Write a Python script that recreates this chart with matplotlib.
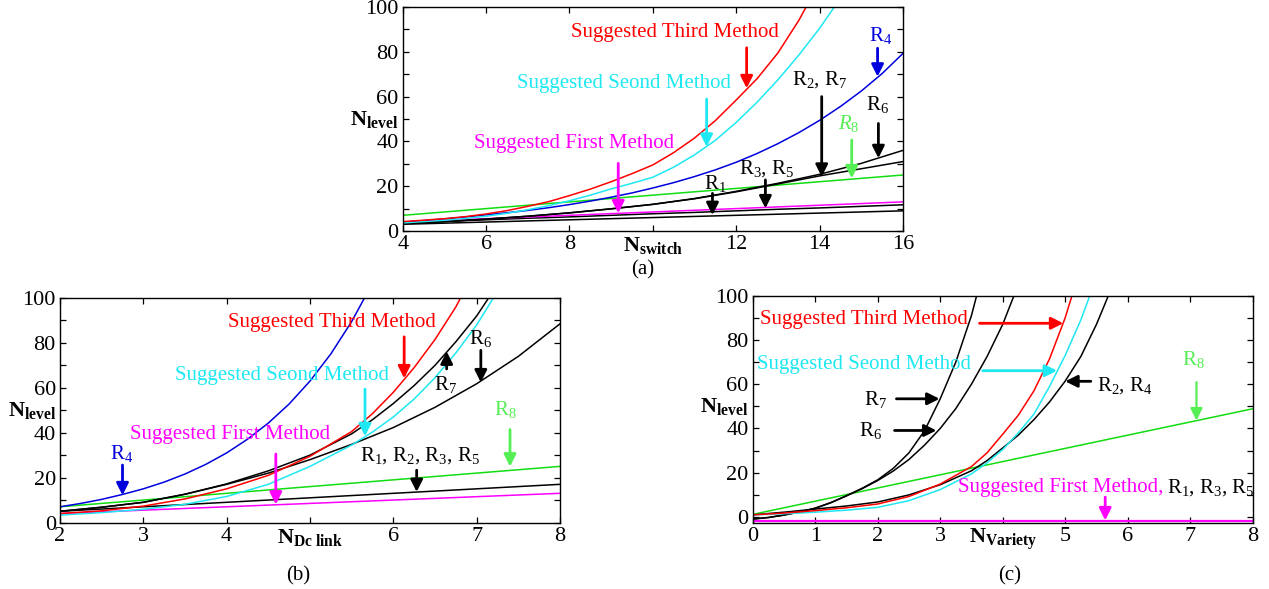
"""Three panels of N_level curves: (a) vs N_switch, (b) vs N_Dc link, (c) vs N_Variety."""

import matplotlib

matplotlib.use("Agg")
import matplotlib.pyplot as plt
from matplotlib import transforms

plt.rcParams["font.family"] = ["Liberation Serif", "DejaVu Serif"]
plt.rcParams["mathtext.fontset"] = "custom"
plt.rcParams["mathtext.rm"] = "Liberation Serif"
plt.rcParams["mathtext.it"] = "Liberation Serif:italic"
plt.rcParams["mathtext.bf"] = "Liberation Serif:bold"

RED = "#ff0000"
CYAN = "#1ee8f2"
BLUE = "#0000dd"
GREEN = "#11dd11"
LIGHT_GREEN = "#55ee55"
MAGENTA = "#ff00ff"
BLACK = "#000000"

# ---------------------------------------------------------------------------
# Panel (a): N_level vs N_switch
# ---------------------------------------------------------------------------
XA = [4, 5, 6, 7, 8, 9, 10, 11, 12, 13, 14, 15, 16]
A_FIRST = [4.0, 4.75, 5.5, 6.25, 7.0, 7.75, 8.5, 9.25, 10.0, 10.75, 11.5, 12.25, 13.0]
A_R8 = [7, 8.5, 10, 11.5, 13, 14.5, 16, 17.5, 19, 20.5, 22, 23.5, 25]
A_R1 = [3.0, 3.5, 4.0, 4.5, 5.0, 5.5, 6.0, 6.5, 7.0, 7.5, 8.0, 8.5, 9.0]
A_R3R5 = [3.7, 4.3, 5.0, 5.7, 6.3, 7.0, 7.7, 8.3, 9.0, 9.7, 10.3, 11.0, 11.7]
A_R2R7 = [3.3, 4.2, 5.3, 6.6, 8.1, 9.9, 11.9, 14.4, 17.5, 21.0, 24.6, 27.8, 31.0]
A_R6 = [3.3, 4.2, 5.3, 6.6, 8.1, 9.9, 11.9, 14.5, 17.7, 21.3, 25.3, 30.2, 36.0]

XA_FINE = [4, 4.5, 5, 5.5, 6, 6.5, 7, 7.5, 8, 8.5, 9, 9.5, 10, 10.5, 11, 11.5, 12,
           12.5, 13, 13.5, 14, 14.5, 15, 15.5, 16]
A_R4 = [4.0, 4.65, 5.4, 6.25, 7.2, 8.15, 9.2, 10.4, 11.8, 13.35, 15.1, 17.0, 19.2,
        21.6, 24.3, 27.3, 30.7, 34.6, 39.0, 43.9, 49.4, 55.6, 62.5, 70.3, 79.3]
A_THIRD = [4.2, 4.8, 5.5, 6.4, 7.6, 9.1, 11.0, 13.1, 15.8, 18.7, 22.0, 25.6, 29.5,
           35.0, 41.5, 49.3, 58.5, 68.0, 79.5, 94.0, 111.0]
A_SECOND = [3.6, 4.2, 4.8, 5.6, 6.6, 7.9, 9.5, 11.3, 13.5, 16.0, 18.8, 21.3, 24.0,
            28.5, 34.0, 40.5, 48.5, 57.5, 67.5, 78.5, 90.5, 104.0]

# ---------------------------------------------------------------------------
# Panel (b): N_level vs N_Dc link
# ---------------------------------------------------------------------------
XB = [2, 2.5, 3, 3.5, 4, 4.5, 5, 5.5, 6, 6.5, 7, 7.5, 8]
B_FIRST = [4.0, 4.75, 5.5, 6.25, 7.0, 7.75, 8.5, 9.25, 10.0, 10.75, 11.5, 12.25, 13.0]
B_R8 = [7, 8.5, 10, 11.5, 13, 14.5, 16, 17.5, 19, 20.5, 22, 23.5, 25]
B_R1235 = [5, 6, 7, 8, 9, 10, 11, 12, 13, 14, 15, 16, 17]
B_R6 = [5.0, 6.8, 9.0, 12.6, 17.0, 22.0, 28.0, 34.8, 42.3, 51.3, 61.8, 74.0, 88.5]

XB_FINE = [2, 2.5, 3, 3.5, 4, 4.5, 5, 5.5, 5.75, 6, 6.25, 6.5, 6.75, 7, 7.25]
B_THIRD = [4.0, 5.2, 7.3, 10.5, 15.0, 21.0, 29.5, 40.5, 48.5, 58.0, 69.0, 81.5, 96.0, 114.0]
B_SECOND = [3.3, 4.4, 5.9, 8.1, 11.6, 17.0, 25.0, 34.5, 40.3, 47.0, 55.0, 64.5, 75.5,
            88.0, 103.0]
B_R7 = [5.0, 6.8, 9.0, 12.6, 17.2, 23.0, 30.0, 39.5, 45.8, 53.0, 61.0, 70.0, 80.5,
        92.0, 106.0]

XB_R4 = [2, 2.25, 2.5, 2.75, 3, 3.25, 3.5, 3.75, 4, 4.25, 4.5, 4.75, 5, 5.25, 5.5, 5.75]
B_R4 = [7.0, 8.5, 10.3, 12.5, 15.0, 18.0, 21.6, 25.9, 31.0, 37.1, 44.3, 52.8, 63.0,
        75.1, 89.5, 106.6]

# ---------------------------------------------------------------------------
# Panel (c): N_level vs N_Variety
# ---------------------------------------------------------------------------
XC_LINE = [0, 8]
C_FIRST = [-1.9, -1.9]
C_R8 = [1.2, 48.9]

XC_Q = [0, 0.25, 0.5, 0.75, 1, 1.25, 1.5, 1.75, 2, 2.25, 2.5, 2.75, 3, 3.25, 3.5,
        3.75, 4, 4.25]
C_R7 = [-0.9, -0.2, 0.9, 2.3, 4.0, 6.5, 9.6, 13.0, 16.8, 22.0, 29.0, 39.0, 53.4,
        70.0, 91.0, 118.0]
C_R6 = [-0.9, -0.2, 0.9, 2.3, 4.0, 6.5, 9.6, 12.8, 16.5, 20.8, 26.0, 32.5, 40.0,
        49.0, 60.0, 72.5, 87.0, 105.0]

XC_LOW = [0, 0.5, 1, 1.5, 2, 2.5, 3, 3.5, 3.75, 4, 4.25, 4.5, 4.75, 5, 5.25, 5.5, 5.75]
C_THIRD = [1.0, 1.8, 2.9, 4.2, 5.9, 9.3, 14.9, 22.8, 29.0, 37.4, 46.0, 57.0, 71.5,
           90.0, 113.0]
C_SECOND = [1.0, 1.5, 2.2, 3.1, 4.4, 7.4, 12.4, 19.5, 24.5, 30.5, 38.0, 46.5, 59.0,
            73.0, 89.0, 108.0]
C_R2R4 = [1.0, 2.2, 3.6, 5.0, 6.8, 10.0, 14.6, 20.9, 25.5, 31.2, 37.0, 44.0, 52.0,
          61.4, 72.5, 87.0, 104.0]


# ---------------------------------------------------------------------------
# Helpers
# ---------------------------------------------------------------------------
W, H = 1269, 589
LABEL_SIZE = 15


def add_axes_px(fig, left, top, right, bottom):
    return fig.add_axes([left / W, 1 - bottom / H, (right - left) / W, (bottom - top) / H])


def curve(ax, xs, ys, color, lw=1.1):
    ax.plot(xs[:len(ys)], ys, color=color, lw=lw, solid_joinstyle="round")


def style_axes(ax, xlim, ylim, xticks, name_at, name):
    ax.set_xlim(*xlim)
    ax.set_ylim(*ylim)
    ax.set_xticks(xticks)
    ax.set_xticklabels(["" if t == name_at else f"{t:g}" for t in xticks])
    yticks = list(range(0, 101, 10))
    ax.set_yticks(yticks)
    ax.set_yticklabels([str(v) if v % 20 == 0 else "" for v in yticks])
    ax.tick_params(direction="in", top=True, right=True, length=4, width=0.9,
                   labelsize=16, pad=3)
    for spine in ax.spines.values():
        spine.set_linewidth(1.0)
    ax.annotate(name, xy=(name_at, 0), xycoords=("data", "axes fraction"),
                xytext=(0, -3), textcoords="offset points",
                ha="center", va="top", fontsize=16)
    trans = transforms.blended_transform_factory(ax.transAxes, ax.transData)
    ax.text(-0.008, 50, r"$\mathbf{N}_{\mathbf{level}}$", transform=trans,
            ha="right", va="center", fontsize=16)


def label(ax, text, x, y, color, ha="center"):
    ax.text(x, y, text, color=color, fontsize=LABEL_SIZE, ha=ha, va="center")


def arrow(ax, x0, y0, x1, y1, color, lw=2.0):
    ax.annotate("", xy=(x1, y1), xytext=(x0, y0),
                arrowprops=dict(arrowstyle="-|>", color=color, lw=lw,
                                mutation_scale=18, shrinkA=0, shrinkB=0))


fig = plt.figure(figsize=(W / 100, H / 100), dpi=100)

# ---------------------------------------------------------------------------
# (a)
# ---------------------------------------------------------------------------
ax = add_axes_px(fig, 402.7, 7, 903, 231)
curve(ax, XA, A_R8, GREEN)
curve(ax, XA, A_R1, BLACK)
curve(ax, XA, A_R3R5, BLACK)
curve(ax, XA, A_FIRST, MAGENTA)
curve(ax, XA, A_R2R7, BLACK)
curve(ax, XA, A_R6, BLACK)
curve(ax, XA_FINE, A_R4, BLUE)
curve(ax, XA_FINE, A_SECOND, CYAN)
curve(ax, XA_FINE, A_THIRD, RED)
style_axes(ax, (4, 16), (0, 100), [4, 6, 8, 10, 12, 14, 16], 10,
           r"$\mathbf{N}_{\mathbf{switch}}$")

label(ax, "Suggested Third Method", 10.53, 88.6, RED)
label(ax, "Suggested Seond Method", 9.32, 65.7, CYAN)
label(ax, "Suggested First Method", 8.11, 39.2, MAGENTA)
label(ax, r"R$_4$", 15.45, 87.5, BLUE)
label(ax, r"R$_2$, R$_7$", 14.01, 67.4, BLACK)
label(ax, r"R$_6$", 15.4, 56.3, BLACK)
label(ax, r"$R_8$", 14.7, 48.2, LIGHT_GREEN)
label(ax, r"R$_3$, R$_5$", 12.74, 28.1, BLACK)
label(ax, r"R$_1$", 11.49, 21.4, BLACK)

arrow(ax, 12.25, 81.8, 12.25, 63.7, RED)
arrow(ax, 11.29, 58.9, 11.29, 37.6, CYAN)
arrow(ax, 9.17, 30.2, 9.17, 7.9, MAGENTA)
arrow(ax, 15.39, 81.6, 15.39, 68.9, BLUE)
arrow(ax, 14.05, 60.0, 14.05, 24.2, BLACK)
arrow(ax, 15.41, 48.0, 15.41, 32.5, BLACK)
arrow(ax, 14.77, 40.6, 14.77, 23.5, LIGHT_GREEN)
arrow(ax, 12.7, 22.8, 12.7, 10.1, BLACK)
arrow(ax, 11.43, 16.8, 11.43, 7.1, BLACK)

# ---------------------------------------------------------------------------
# (b)
# ---------------------------------------------------------------------------
ax = add_axes_px(fig, 60, 298, 560, 522.5)
curve(ax, XB, B_R8, GREEN)
curve(ax, XB, B_FIRST, MAGENTA)
curve(ax, XB, B_R1235, BLACK)
curve(ax, XB, B_R6, BLACK)
curve(ax, XB_FINE, B_R7, BLACK)
curve(ax, XB_FINE, B_SECOND, CYAN)
curve(ax, XB_FINE, B_THIRD, RED)
curve(ax, XB_R4, B_R4, BLUE)
style_axes(ax, (2, 8), (0, 100), [2, 3, 4, 5, 6, 7, 8], 5,
           r"$\mathbf{N}_{\mathbf{Dc\ link}}$")

label(ax, "Suggested Third Method", 5.26, 89.0, RED)
label(ax, "Suggested Seond Method", 4.66, 65.5, CYAN)
label(ax, "Suggested First Method", 4.04, 39.0, MAGENTA)
label(ax, r"R$_4$", 2.74, 30.8, BLUE)
label(ax, r"R$_6$", 7.04, 81.8, BLACK)
label(ax, r"R$_7$", 6.63, 61.5, BLACK)
label(ax, r"R$_8$", 7.35, 50.2, LIGHT_GREEN)
label(ax, r"R$_1$, R$_2$, R$_3$, R$_5$", 6.32, 30.0, BLACK)

arrow(ax, 6.13, 82.7, 6.13, 64.2, RED)
arrow(ax, 5.66, 59.4, 5.66, 38.4, CYAN)
arrow(ax, 4.59, 30.5, 4.59, 8.0, MAGENTA)
arrow(ax, 2.75, 25.6, 2.75, 12.1, BLUE)
arrow(ax, 7.05, 76.7, 7.05, 62.4, BLACK)
arrow(ax, 6.64, 68.4, 6.64, 76.2, BLACK)
arrow(ax, 7.4, 41.4, 7.4, 24.9, LIGHT_GREEN)
arrow(ax, 6.28, 23.3, 6.28, 13.6, BLACK)

# ---------------------------------------------------------------------------
# (c)
# ---------------------------------------------------------------------------
ax = add_axes_px(fig, 752.7, 295.6, 1252.7, 522.6)
curve(ax, XC_LINE, C_R8, GREEN)
curve(ax, XC_LINE, C_FIRST, MAGENTA, lw=1.6)
curve(ax, XC_Q, C_R7, BLACK)
curve(ax, XC_Q, C_R6, BLACK)
curve(ax, XC_LOW, C_R2R4, BLACK)
curve(ax, XC_LOW, C_SECOND, CYAN)
curve(ax, XC_LOW, C_THIRD, RED)
style_axes(ax, (0, 8), (-2.5, 100), [0, 1, 2, 3, 4, 5, 6, 7, 8], 4,
           r"$\mathbf{N}_{\mathbf{Variety}}$")

label(ax, "Suggested Third Method", 0.12, 89.0, RED, ha="left")
label(ax, "Suggested Seond Method", 0.07, 68.7, CYAN, ha="left")
label(ax, r"R$_7$", 1.97, 52.9, BLACK)
label(ax, r"R$_6$", 1.89, 38.9, BLACK)
label(ax, r"R$_2$, R$_4$", 5.96, 59.2, BLACK)
label(ax, r"R$_8$", 7.05, 71.0, LIGHT_GREEN)
label(ax, "Suggested First Method,", 3.28, 13.5, MAGENTA, ha="left")
label(ax, r"R$_1$, R$_3$, R$_5$", 6.63, 13.5, BLACK, ha="left")

arrow(ax, 3.63, 87.5, 4.97, 87.5, RED)
arrow(ax, 3.68, 66.1, 4.87, 66.1, CYAN)
arrow(ax, 2.30, 53.4, 2.99, 53.4, BLACK)
arrow(ax, 2.27, 39.1, 2.94, 39.1, BLACK)
arrow(ax, 5.41, 61.3, 5.00, 61.3, BLACK)
arrow(ax, 7.1, 60.9, 7.1, 43.6, LIGHT_GREEN, lw=1.6)
arrow(ax, 5.64, 9.0, 5.64, -1.5, MAGENTA)

# panel captions
fig.text(643 / W, 1 - 270 / H, "(a)", ha="center", va="center", fontsize=LABEL_SIZE)
fig.text(298 / W, 1 - 576 / H, "(b)", ha="center", va="center", fontsize=LABEL_SIZE)
fig.text(1010 / W, 1 - 576 / H, "(c)", ha="center", va="center", fontsize=LABEL_SIZE)

fig.savefig("out.png", dpi=100)
